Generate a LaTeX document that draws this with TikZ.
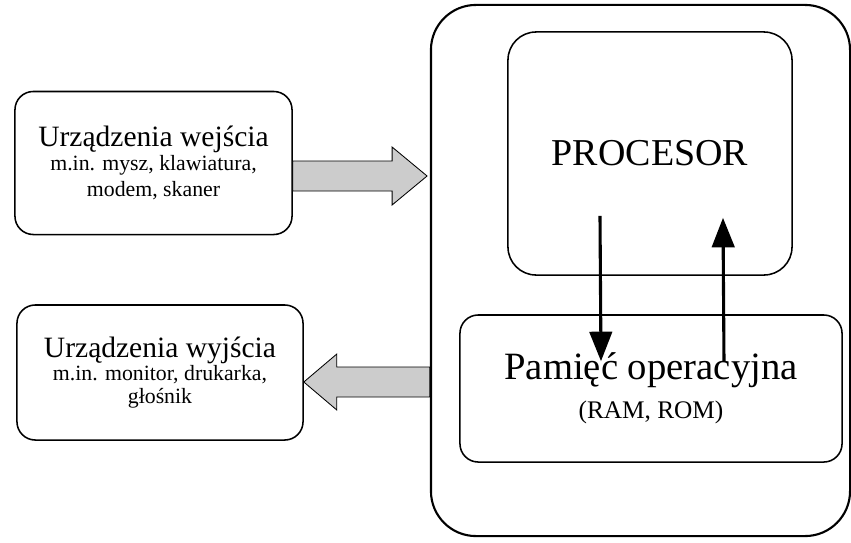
\documentclass[tikz,border=0pt]{standalone}
\usepackage{fontspec}
\setmainfont{Liberation Serif}
\usepackage{tikz}
\usetikzlibrary{calc,arrows.meta}
\tikzset{
  box/.style={draw, line width=1.1pt, fill=white, align=center},
  fatarrow/.style={draw, line width=0.6pt, fill=black!20},
  bus/.style={line width=2.2pt, -{Triangle[width=16pt,length=21pt]}},
}
\newcommand{\ftitle}{\fontsize{21}{24}\selectfont}
\newcommand{\fsub}{\fontsize{15.5}{18}\selectfont}
\begin{document}
\begin{tikzpicture}[x=0.025cm, y=-0.025cm]
		%%%%% FRAME %%%%%
		\useasboundingbox (0, 0) rectangle (851, 542);
		
		\node[box, line width=1.5pt, rounded corners=32pt, minimum width=10.475cm, minimum height=13.275cm] (komp) at (640.5, 270.5) {};
		
		\node[box, rounded corners=20pt, minimum width=7.1cm, minimum height=6.075cm] (proc) at (650, 153.5) {\fontsize{27}{30}\selectfont PROCESOR};
		\node[box, rounded corners=13pt, minimum width=9.55cm, minimum height=3.675cm, font=\fontsize{18}{28}\selectfont] (mem) at (651, 388.5) {{\fontsize{27.5}{30}\selectfont Pamięć operacyjna}\\(RAM, ROM)};
		
		\node[box, rounded corners=13pt, minimum width=6.925cm, minimum height=3.575cm, font=\fsub] (wej) at (153.5, 163) {{\ftitle Urządzenia wejścia}\\[-1pt]m.in. mysz, klawiatura,\\modem, skaner};
		\node[box, rounded corners=13pt, minimum width=7.15cm, minimum height=3.375cm, font=\fontsize{15.5}{16.5}\selectfont] (wyj) at (160, 372.5) {{\ftitle Urządzenia wyjścia}\\[0pt]m.in. monitor, drukarka,\\głośnik};
		
		%%%%% WIDE ARROWS %%%%%
		\coordinate (a1) at (wej.east |- 0, 176);
		\coordinate (a2) at ([xshift=-2pt]komp.west |- 0, 176);
		\draw[fatarrow] ($(a1)+(0,-15)$) -- ($(a2)+(-35,-15)$) -- ($(a2)+(-35,-29)$) -- (a2) -- ($(a2)+(-35,29)$) -- ($(a2)+(-35,15)$) -- ($(a1)+(0,15)$) -- cycle;
		
		\coordinate (b1) at (komp.west |- 0, 382);
		\coordinate (b2) at (wyj.east |- 0, 382);
		\draw[fatarrow] ($(b1)+(0,-15)$) -- ($(b2)+(33,-15)$) -- ($(b2)+(33,-28)$) -- (b2) -- ($(b2)+(33,28)$) -- ($(b2)+(33,15)$) -- ($(b1)+(0,15)$) -- cycle;
		
		%%%%% BUS %%%%%
		\draw[bus] ($(proc.south)+(-50,-60)$) -- ($(mem.north)+(-50,47)$);
		\draw[bus] ($(mem.north)+(73,47)$) -- ($(proc.south)+(73,-58)$);
\end{tikzpicture}
\end{document}
